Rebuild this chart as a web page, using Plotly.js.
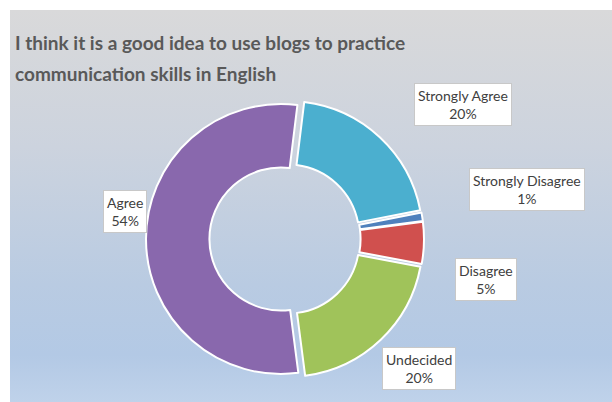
<!DOCTYPE html>
<html>
<head>
<meta charset="utf-8">
<script src="https://cdn.plot.ly/plotly-3.0.1.min.js"></script>
<style>
  html, body { margin: 0; padding: 0; background: #ffffff; }
  #panel { position: absolute; left: 10px; top: 10px; width: 602px; height: 392px;
    background: linear-gradient(to bottom, #d9d9da 0%, #ccd3de 35%, #b9cbe2 70%, #b3c9e5 88%, #bfd2ea 100%); }
  #chart { position: absolute; left: 0; top: 0; width: 612px; height: 402px; }
</style>
</head>
<body>
<div id="panel"></div>
<div id="chart"></div>
<script>
const categories = ["Strongly Agree", "Strongly Disagree", "Disagree", "Undecided", "Agree"];
const percentages = [20, 1, 5, 20, 54];
const sliceColors = ["#4bafcf", "#4f81bd", "#d0504e", "#a0c35a", "#8968ad"];
const titleLines = ["I think it is a good idea to use blogs to practice", "communication skills in English"];

const W = 612, H = 402;
// label box centres in pixels (layout only)
const labelPos = [[463, 105], [527, 189], [486, 279], [419, 368], [125, 211]];

const cx = 285, cy = 239, R = 139;
const titleFont = {family: 'Lato, "Open Sans", sans-serif', size: 19, color: '#595959', weight: 'bold'};

const annotations = categories.map((c, i) => ({
  xref: 'paper', yref: 'paper',
  x: labelPos[i][0] / W, y: 1 - labelPos[i][1] / H,
  xanchor: 'center', yanchor: 'middle',
  text: c + '<br>' + percentages[i] + '%',
  showarrow: false,
  align: 'center',
  font: {family: 'Lato, "Open Sans", sans-serif', size: 14, color: '#404040'},
  bgcolor: '#ffffff',
  bordercolor: '#c8c8c8',
  borderwidth: 1,
  borderpad: 3
}));

annotations.push({
  xref: 'paper', yref: 'paper',
  x: 13 / W, y: 1 - 74 / H,
  xanchor: 'left', yanchor: 'middle',
  text: titleLines[1],
  showarrow: false,
  font: titleFont
});

const trace = {
  type: 'pie',
  labels: categories,
  values: percentages,
  sort: false,
  direction: 'clockwise',
  rotation: 7,
  hole: 0.53,
  pull: [0.03, 0.03, 0.03, 0.03, 0.03],
  marker: {colors: sliceColors, line: {color: '#ffffff', width: 2}},
  textinfo: 'none',
  hoverinfo: 'label+percent',
  showlegend: false,
  domain: {x: [(cx - R) / W, (cx + R) / W], y: [1 - (cy + R) / H, 1 - (cy - R) / H]}
};

const layout = {
  width: W, height: H,
  margin: {l: 0, r: 0, t: 0, b: 0},
  paper_bgcolor: 'rgba(0,0,0,0)',
  plot_bgcolor: 'rgba(0,0,0,0)',
  showlegend: false,
  title: {
    text: titleLines[0],
    x: 15 / W, xref: 'paper', xanchor: 'left',
    y: 1 - 43 / H, yref: 'paper', yanchor: 'middle',
    font: titleFont
  },
  annotations: annotations
};

Plotly.newPlot('chart', [trace], layout, {displayModeBar: false, staticPlot: true});
</script>
</body>
</html>
